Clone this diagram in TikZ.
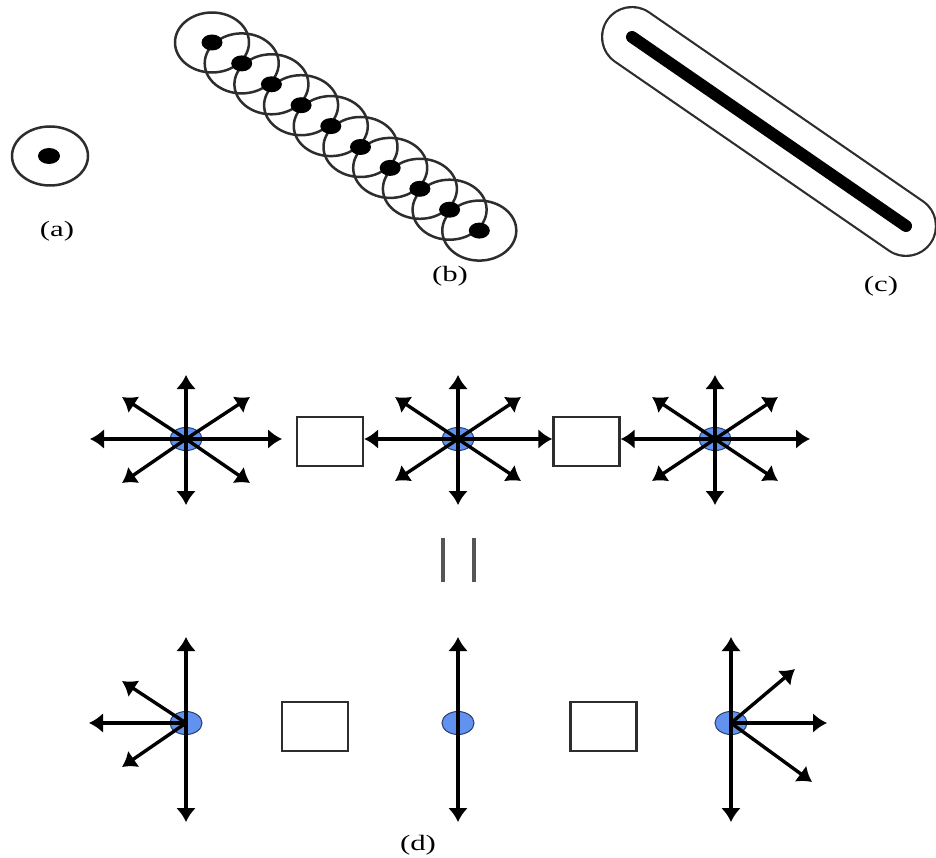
\documentclass[tikz,border=0pt]{standalone}
\usepackage{fontspec}
\newfontfamily\capfont[FakeStretch=1.4]{Liberation Serif}
\usetikzlibrary{arrows.meta,shapes.geometric}
\definecolor{spot}{RGB}{98,146,240}
\definecolor{spotrim}{RGB}{40,60,110}
\definecolor{rim}{RGB}{45,45,45}
\definecolor{barcol}{RGB}{85,85,85}
\begin{document}
\begin{tikzpicture}[x=1pt,y=-1pt,
  ring/.style={draw=rim,line width=2.5pt},
  pin/.style={fill=black},
  lab/.style={font=\capfont\fontsize{22}{26}\selectfont,inner sep=0pt},
  spotnode/.style={ellipse,draw=spotrim,line width=1pt,fill=spot,minimum width=32pt,minimum height=23pt,inner sep=0pt},
  cell/.style={draw=rim,line width=2.4pt,fill=white,minimum width=66pt,minimum height=49pt,inner sep=0pt},
  ray/.style={line width=3.4pt,-{Latex[length=14pt,width=20pt]}},
  bar/.style={draw=barcol,line width=3.8pt}
]
\useasboundingbox (0,0) rectangle (936,858);

% (a) single point with its neighbourhood
\draw[ring] (50,156) ellipse [x radius=38, y radius=29.5];
\fill[pin] (49,156) ellipse [x radius=11, y radius=8];
\node[lab] (la) at (57,231) {(a)};

% (b) chain of points with overlapping neighbourhoods
\foreach \i in {0,...,9}
  \draw[ring] (212+29.7*\i,42.5+20.9*\i) ellipse [x radius=37, y radius=30];
\foreach \i in {0,...,9}
  \fill[pin] (212+29.7*\i,42.5+20.9*\i) ellipse [x radius=10.5, y radius=8];
\node[lab] (lb) at (450,276) {(b)};

% (c) continuous segment with its tube
\coordinate (c1) at (632,37);
\coordinate (c2) at (906,226);
\draw[rim,line width=62pt,line cap=round] (c1) -- (c2);
\draw[white,line width=57.6pt,line cap=round] (c1) -- (c2);
\draw[black,line width=12pt,line cap=round] (c1) -- (c2);
\node[lab] (lc) at (881,286) {(c)};

% (d) top row: three points radiating in all directions
\node[spotnode] (s1) at (186,439) {};
\node[spotnode] (s2) at (458,439) {};
\node[spotnode] (s3) at (715,439) {};
\node[cell] (b1) at (330,441.5) {};
\node[cell] (b2) at (586.5,441.5) {};

\foreach \p in {(186,375),(186,505),(90,439),(282,439),(122,397),(250,397),(122,483),(250,483)}
  \draw[ray] (s1.center) -- \p;
\foreach \p in {(458,375),(458,505),(395,397),(521,397),(395,481),(521,481)}
  \draw[ray] (s2.center) -- \p;
\draw[ray] (s2.center) -- (s2.center -| b1.east);
\draw[ray] (s2.center) -- (s2.center -| b2.west);
\foreach \p in {(715,375),(715,505),(810,439),(652,397),(778,397),(652,481),(778,481)}
  \draw[ray] (s3.center) -- \p;
\draw[ray] (s3.center) -- (s3.center -| b2.east);

% equality sign between the rows
\draw[bar] (443,538) -- (443,582);
\draw[bar] (474,538) -- (474,582);

% (d) bottom row: the remaining directions
\node[spotnode] (t1) at (186,723) {};
\node[spotnode] (t2) at (458,723) {};
\node[spotnode] (t3) at (731,723) {};
\node[cell] (b3) at (315,726.5) {};
\node[cell] (b4) at (603.5,726.5) {};

\foreach \p in {(186,637),(186,822),(89,723),(122,681),(122,767)}
  \draw[ray] (t1.center) -- \p;
\foreach \p in {(458,637),(458,822)}
  \draw[ray] (t2.center) -- \p;
\foreach \p in {(731,637),(731,822),(827,723),(795,669),(812,782)}
  \draw[ray] (t3.center) -- \p;

\node[lab] (ld) at (418,845) {(d)};
\end{tikzpicture}
\end{document}
